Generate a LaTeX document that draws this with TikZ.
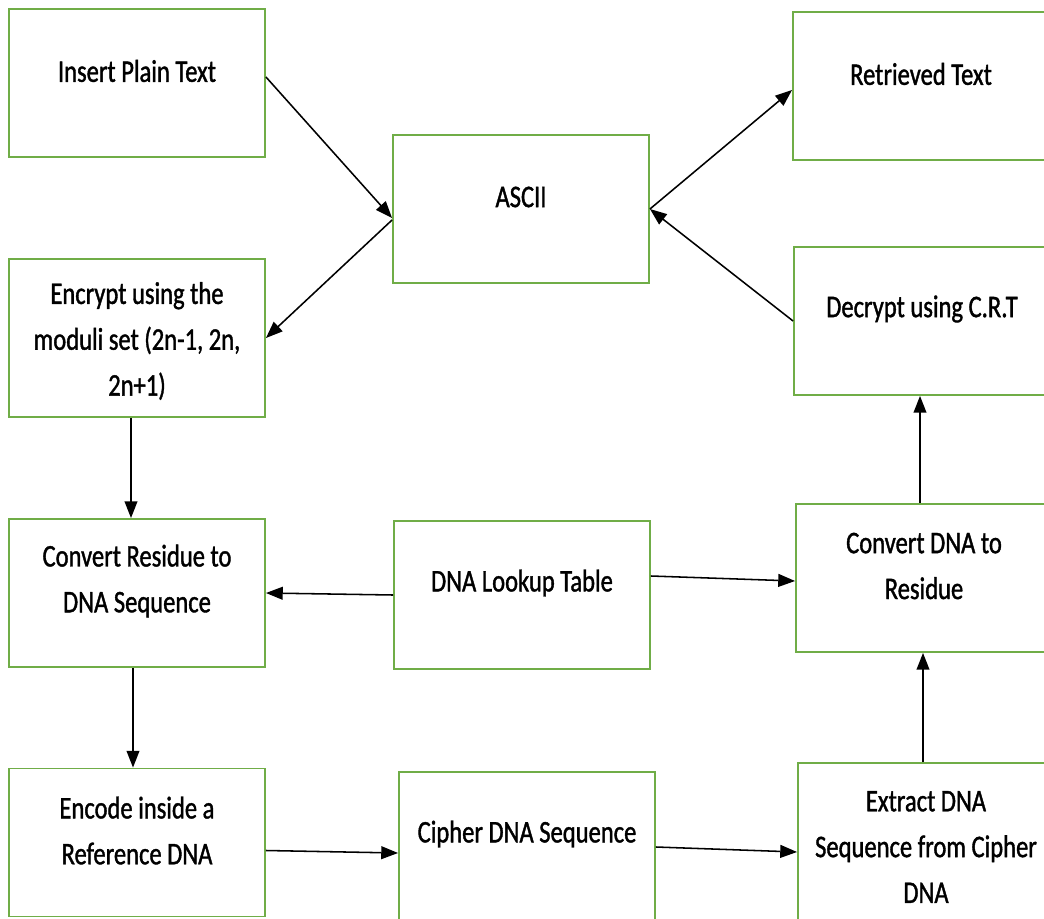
\documentclass[tikz,border=0pt]{standalone}
\usepackage{fontspec}
\setmainfont{Carlito}[FakeStretch=0.78,FakeBold=1.2]
\usetikzlibrary{calc,arrows.meta}
\definecolor{blkgreen}{RGB}{112,173,71}
\tikzset{
	blk/.style={draw=blkgreen, line width=1.3pt, minimum width=6.4cm, minimum height=3.7cm, inner sep=0pt},
	lbl/.style={font=\fontsize{22.4pt}{32.6pt}\selectfont, align=center, inner sep=0pt, yshift=0.3cm},
	flow/.style={line width=1.1pt, -{Triangle[length=0.42cm,width=0.32cm]}}
}

\begin{document}
\begin{tikzpicture}[x=0.025cm,y=-0.025cm]
\useasboundingbox (0,0) rectangle (1044,919);
\node[blk, label={[lbl]center:Insert Plain Text}] (ins) at (137,83) {};
\node[blk, label={[lbl]center:ASCII}] (asc) at (521,209) {};
\node[blk, label={[lbl]center:Retrieved Text}] (ret) at (921,86) {};
\node[blk, minimum height=3.95cm, label={[lbl,yshift=-0.375cm]center:{Encrypt using the\\moduli set (2n-1, 2n,\\2n+1)}}] (enc) at (137,338) {};
\node[blk, label={[lbl]center:Decrypt using C.R.T}] (dec) at (922,321) {};
\node[blk, label={[lbl]center:{Convert Residue to\\DNA Sequence}}] (cres) at (137,593) {};
\node[blk, label={[lbl]center:DNA Lookup Table}] (look) at (522,595) {};
\node[blk, label={[lbl]center:{Convert DNA to\\Residue}}] (cdna) at (924,578) {};
\node[blk, label={[lbl]center:{Encode inside a\\Reference DNA}}] (ecd) at (137,842.5) {};
\node[blk, label={[lbl]center:Cipher DNA Sequence}] (cip) at (527,846) {};
\node[blk, minimum height=4cm, label={[lbl,yshift=-0.4cm]center:{Extract DNA\\Sequence from Cipher\\DNA}}] (ext) at (926,843) {};
\draw[flow] ($(ins.east)+(0,-6)$) -- ($(asc.west)+(0,9)$);
\draw[flow] ($(asc.west)+(0,11)$) -- (enc.east);
\draw[flow] (asc.east) -- ($(ret.west)+(0,4)$);
\draw[flow] (dec.west) -- (asc.east);
\draw[flow] ($(enc.south)+(-6,0)$) -- ($(cres.north)+(-6,0)$);
\draw[flow] (look.west) -- (cres.east);
\draw[flow] ($(look.east)+(0,-19)$) -- ($(cdna.west)+(0,3)$);
\draw[flow] ($(cres.south)+(-4,0)$) -- ($(ecd.north)+(-4,0)$);
\draw[flow] ($(ecd.east)+(0,8)$) -- ($(cip.west)+(0,7)$);
\draw[flow] ($(cip.east)+(0,1)$) -- ($(ext.west)+(0,9)$);
\draw[flow] ($(ext.north)+(-3,0)$) -- ($(cdna.south)+(-1,0)$);
\draw[flow] ($(cdna.north)+(-4,0)$) -- ($(dec.south)+(-2,0)$);
\end{tikzpicture}
\end{document}
